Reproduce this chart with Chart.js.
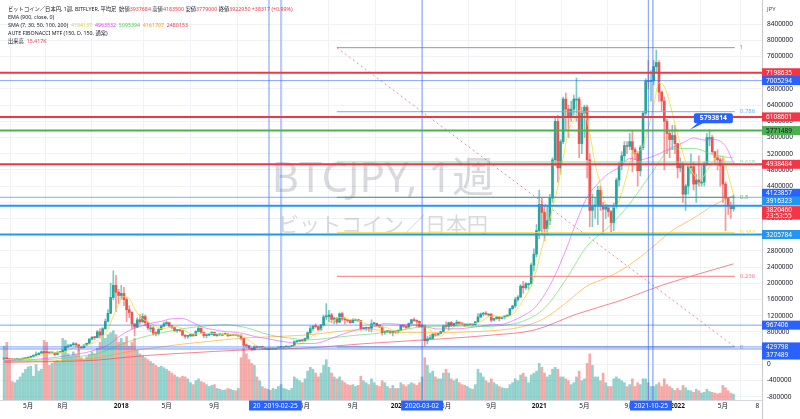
<!DOCTYPE html>
<html lang="ja">
<head>
<meta charset="utf-8">
<title>BTCJPY 1週</title>
<script src="https://cdn.jsdelivr.net/npm/chart.js@4.4.1/dist/chart.umd.min.js"></script>
<style>
  html, body { margin: 0; padding: 0; background: #ffffff; }
  #wrap { position: relative; width: 800px; height: 419px; }
</style>
</head>
<body>
<div id="wrap"><canvas id="chart" width="800" height="419"></canvas></div>
<script>
// weekly candles, index 0 = week of 2017-02-27, prices in 万円 (x10000 JPY)
const firstOpen = 13.0;
const weekClose = [
  // 2017
  14.3,13.8,11.8,11.2,12.0,13.2,13.2,13.9,15.0,17.3,19.5,22.5,24.0,27.5,31.0,29.0,28.6,28.2,28.3,24.0,29.0,30.5,
  34.5,43.0,45.5,48.0,51.0,48.0,42.0,41.0,47.5,52.0,62.0,67.0,66.0,80.0,72.0,88.0,106,126,165,195,178,170,
  // 2018
  175,160,135,128,100,92,110,105,118,103,90,90,77,76,86,94,100,103,95,91,83,84,83,72,69,70,
  74,71,81,89,79,71,72,74,79,71,73,74,74,75,71,72,73,72,72,64,47,46,40,36,43,42,
  // 2019
  44,40,39,39,38,40,40,42,43,43,44,44,46,56,57,59,58,64,78,88,94,93,86,97,117,118,
  122,111,114,104,125,112,110,108,103,111,111,108,88,89,90,89,100,101,96,92,78,81,82,78,82,80,
  // 2020
  84,96,94,91,101,110,108,106,93,96,58,63,64,74,72,76,81,95,93,103,96,101,104,101,100,97,98,
  99,98,105,117,124,126,124,124,109,113,117,113,116,119,121,137,144,160,166,193,189,199,199,245,272,330,
  // 2021
  395,375,335,355,410,505,600,485,550,655,630,610,630,655,655,545,620,635,505,380,390,393,430,390,383,388,
  377,350,390,455,490,515,540,538,550,530,520,478,535,620,700,698,700,735,745,672,650,600,570,555,565,545,
  // 2022
  485,495,420,440,488,488,445,455,450,450,495,560,560,525,510,505,490,445,410,390,384,392.3
];
const weekHigh = [
  14.8,14.6,14.0,12.3,12.5,13.4,13.7,14.1,15.4,17.8,20.5,23.2,31.0,29.0,33.5,32.0,30.5,29.5,29.8,28.8,31.5,31.5,
  36.0,45.0,49.5,49.0,54.5,53.0,48.5,44.5,49.0,52.5,64.0,68.5,68.0,84.0,88.0,91.0,112,135,200,231,220,185,
  195,190,165,145,130,100,115,123,125,122,105,96,93,80,88,96,104,107,104,96,92,86,86,84,73,71,
  75,75,83,92,90,79,73,76,81,80,73.5,76,76,77,75.5,75,74,73.5,73,72.5,64,49,47,40.5,46,45,
  44.5,45,41,40,39.5,40.5,41,44,43.5,44,44.5,45,46.5,58,58.5,60,61,65,80,95,96,100,94,99,122,150,
  133,126,117,116,127,129,116,110,109,113,112,111,108,91,92,91,110,104,102,97,93,82,83,83,83,81,
  85,97,98,95,102,111,115,110,107,100,97,70,72,76,78,77,82,97,105,104,106,102,109,105,101,100,99,
  100,99.5,106,125,127,128,130,125,125,113.5,118,117.5,117,120,122,138,146,165,170,197,205,202,201,250,285,345,
  430,410,390,390,420,510,610,615,555,660,670,640,650,665,707,660,635,640,640,520,420,410,440,440,400,395,
  390,380,398,460,500,525,550,550,570,575,535,525,540,625,705,750,725,750,776,750,675,660,605,575,590,590,
  545,510,500,445,490,520,500,470,515,490,500,570,579.4,565,525,530,510,510,450,410,400,418.4
];
const weekLow = [
  12.8,12.5,10.5,10.0,10.8,11.9,12.9,13.0,13.8,14.9,17.0,19.3,21.0,23.5,27.0,24.0,27.0,26.5,27.5,21.5,23.5,28.5,
  29.0,34.0,41.0,44.0,47.0,44.0,33.0,39.0,40.5,46.0,51.5,61.0,61.0,65.0,65.0,70.0,86,105,125,160,130,150,
  160,145,105,115,88,70,90,100,103,95,85,80,72,70,72,85,93,97,92,88,80,79,81,70,64,64,
  69,69,70,80,77,66,65,70,73,70,69,71,72,73,68,70,71,71,70,60,43,41,38,35,35.5,40,
  40,39,38.5,38,37,37.5,39.5,39.8,41,42,42.5,43.5,43.8,45.8,54,56,56.5,57.5,63,75,84,90,83,84,96,110,
  105,103,100,100,103,108,100,104,101,102,108,105,85,86,84,81,80,97,94,90,72,74,79,76,70,76,
  77,83,91,88,90,100,106,93,91,91,45,50,63,63,69,70,75,80,89,85,93,93,95,99,98,94,96,
  97,96,97,104,115,119,122,119,105,107,111,107,112,112,118,120,136,140,155,165,175,185,185,198,230,265,
  310,320,305,320,345,400,490,450,470,545,580,560,600,615,600,510,520,560,460,340,340,360,345,380,320,360,
  365,325,330,385,440,480,500,520,530,475,505,440,465,530,615,680,650,690,720,650,625,480,520,510,530,520,
  460,475,400,380,420,470,430,400,440,440,440,490,540,520,495,480,440,400,330,370,360,377.9
];
// 出来高 (K BTC)
const weekVolume = [
  140,150,105,48,45,52,60,70,80,86,88,62,92,75,80,155,150,90,95,100,102,98,
  160,155,120,115,125,118,130,110,105,112,118,125,120,135,150,165,160,170,175,180,170,150,
  160,150,165,140,150,160,130,120,115,110,105,100,95,90,85,88,84,80,75,70,65,60,58,62,60,55,
  45,40,50,55,48,45,40,35,38,40,30,28,25,26,30,28,25,24,30,110,135,120,105,95,90,60,
  50,35,30,28,25,30,28,35,40,30,28,25,30,60,55,50,45,55,75,85,80,70,60,70,90,105,
  85,70,60,55,60,50,45,40,38,40,35,38,62,50,45,40,55,45,38,35,50,45,35,30,38,30,
  30,45,40,35,40,45,42,38,45,60,110,90,70,75,60,55,55,70,80,70,55,50,55,45,40,38,35,
  30,28,40,80,70,60,50,45,55,45,40,35,32,30,30,40,45,55,50,65,70,60,45,65,70,75,
  95,85,70,60,65,80,85,80,60,60,55,50,40,45,60,75,50,55,95,120,90,60,60,50,70,45,
  35,35,55,60,55,50,45,35,40,55,35,45,40,55,55,45,35,35,40,45,35,55,40,35,30,25,
  30,25,38,32,25,24,20,28,24,18,20,28,22,20,18,16,18,38,32,24,18,15.417
];

// SMA lines: [week index, 万円]
const sma7 = [[0,11.5],[3,12.3],[6,12.8],[10,14.9],[14,22.4],[18,28.1],[22,29],[26,40.2],[30,46.1],[34,53.9],[37,69.6],[39,86.4],[41,118.9],[43,146.9],[45,167],[47,163],[49,137],[51,118.6],[53,108],[55,101],[57,94.1],[59,88],[61,89.4],[63,92.1],[65,92.9],[67,87.3],[69,78.9],[71,74.7],[73,75.1],[75,76.4],[77,76.7],[79,76.4],[82,73.9],[86,73.1],[89,71.3],[91,63.7],[93,53.9],[95,45.4],[97,41.6],[100,40.7],[104,40.1],[108,43.1],[110,47.6],[112,52],[114,59.7],[116,71.1],[118,80.1],[120,93.3],[122,103.9],[124,109.3],[126,115.9],[128,114],[130,110.9],[132,111.4],[134,105.6],[136,100],[138,96.4],[140,93.3],[142,92.3],[144,90],[146,84.1],[148,80.7],[150,85.1],[152,89.7],[154,97.7],[156,100.4],[158,96],[160,84],[162,74.3],[164,69.7],[166,79.3],[168,88],[170,96.1],[172,99.7],[175,100],[178,102],[180,109.6],[182,116.9],[184,119.6],[186,118],[188,115.9],[190,119.4],[192,130],[194,148.6],[196,169.7],[198,193],[200,232.4],[202,287.9],[204,329.6],[206,386.4],[208,437.9],[210,508.6],[212,576.4],[214,602.1],[216,625.7],[218,621.4],[220,570.7],[222,495.4],[224,446.1],[226,393.4],[228,387.3],[230,390.4],[232,423.6],[234,468.3],[236,516.9],[238,524.4],[240,538.7],[242,583],[244,638],[246,695.7],[248,685.7],[250,646.7],[252,593.9],[254,545],[256,500.7],[258,480.1],[260,461.6],[262,459.4],[264,477.6],[266,499.3],[268,515],[270,513.6],[272,467.9],[274,419.4]];
const sma30 = [[0,8.5],[3,9.5],[11,11.9],[19,16.9],[27,25.1],[31,29.4],[35,37.1],[39,47.2],[43,67.6],[47,83.7],[51,93.4],[55,101.1],[59,106.1],[63,112.5],[67,113],[71,102.7],[75,90.6],[79,85.3],[83,80.7],[87,79.2],[91,74],[95,67.6],[99,63.2],[103,58.1],[107,54],[111,51.4],[115,51.2],[119,54.2],[123,64.2],[127,73.7],[131,82.9],[135,89],[139,93],[143,100.5],[147,99.4],[151,97.7],[155,96.8],[159,92],[163,87.1],[167,87.6],[171,88],[175,90.5],[179,93.9],[183,97.8],[187,98.7],[191,107.4],[195,120.2],[199,137.6],[203,172],[207,221],[211,282],[215,351.6],[219,412.8],[223,445.7],[227,470.9],[231,485.7],[235,508],[239,505.4],[243,511.8],[247,522.7],[251,535.4],[255,547],[259,558.9],[263,553.9],[267,554.5],[271,538.4],[274,496.4]];
const sma50 = [[0,7.5],[3,7.9],[11,9.6],[19,13.1],[27,18.5],[35,26.5],[43,46.9],[51,65.3],[59,77.7],[67,87.8],[75,94.2],[83,97.7],[91,90.3],[99,73.7],[107,65],[115,60.7],[123,65.4],[131,71.1],[139,75.6],[147,81.8],[155,91.1],[163,94],[171,94.5],[179,93.2],[187,96],[195,106.6],[203,138.8],[211,209.3],[219,292],[227,338.4],[235,396.3],[243,469.8],[251,531.9],[259,533],[267,515.9],[274,509.5]];
const sma100 = [[0,5.6],[3,5.8],[19,8.8],[35,16],[43,26.3],[51,36.3],[59,43],[67,49.9],[75,55.4],[83,60.8],[91,65.3],[99,67.7],[107,70],[115,73.2],[123,79.1],[131,84.3],[139,85.4],[147,79],[155,78.8],[163,77.5],[171,79.2],[179,81.4],[187,85],[195,93.4],[203,113.7],[211,151.7],[219,193.6],[227,215.7],[235,245.7],[243,286.3],[251,330.3],[259,361],[267,394.5],[274,416.2]];
const sma200 = [[0,5.3],[3,5.4],[19,6.8],[35,10.4],[43,15.7],[55,22.5],[71,28.8],[87,34.5],[103,37.5],[119,42.5],[135,50.9],[151,57.5],[167,64],[183,72.1],[199,84.3],[215,123.8],[231,156.3],[247,195],[263,227.1],[274,248]];

// drawn levels (JPY)
const hLevels = [7198635, 7005294, 6108601, 5771489, 4938484, 4123857, 3916323, 3205784, 967406, 429798, 377489];
const lastPrice = 3820460;
const fibHigh = 7817916, fibLow = 429798;
const fibStartWeek = 125, fibEndWeek = 274.5;
const fibLevels = [1, 0.786, 0.618, 0.5, 0.382, 0.236, 0];
const vLineWeeks = [99.5, 104, 157, 242, 243.7];
const calloutWeek = 257.6, calloutValue = 5793814;

// axis ticks
const priceTicks = [-800000,-400000,0,400000,800000,1200000,1600000,2000000,2400000,2800000,3200000,3600000,
  4000000,4400000,4800000,5200000,5600000,6000000,6400000,6800000,7200000,7600000,8000000,8400000];
const tickWeeks = [9, 22, 44, 61, 79, 96, 113, 131, 148, 166, 183, 201, 218, 235, 253, 270, 283];
const tickLabels = ['5月','8月','2018','5月','9月','2019','5月','9月','2020','5月','9月','2021','5月','9月','2022','5月','8'];
const dateMarkWeeks = [101.9, 157, 243];
const dateMarkTexts = ['20  2019-02-25', '2020-03-02', '2021-10-25'];

const MAN = 10000;
const FONT = "'Noto Sans', 'Noto Sans CJK JP', sans-serif";
const UP = '#26a69a', DOWN = '#ef5350';
const DARK = '#131722', RED = '#f23645';

const opens = weekClose.map((c, i) => (i === 0 ? firstOpen : weekClose[i - 1]));
const isUp = weekClose.map((c, i) => c >= opens[i]);
const bodies = weekClose.map((c, i) => ({ x: i, y: [opens[i] * MAN, c * MAN] }));
const wicks = weekClose.map((c, i) => ({
  x: i,
  y: [Math.min(weekLow[i], opens[i], c) * MAN, Math.max(weekHigh[i], opens[i], c) * MAN]
}));
const volumes = weekVolume.map((v, i) => ({ x: i, y: v }));

function lineSet(points, color, width, extra) {
  return Object.assign({
    type: 'line', data: points, borderColor: color, borderWidth: width,
    pointRadius: 0, fill: false, tension: 0, order: 1
  }, extra || {});
}
const smaPoints = arr => arr.map(([w, v]) => ({ x: w, y: v * MAN }));
const smaOpts = { cubicInterpolationMode: 'monotone', order: 3 };

const hStyles = [
  [RED, 2], ['rgba(41,98,255,0.55)', 1], [RED, 2], ['#4caf50', 2], [RED, 2], ['rgba(41,98,255,0.55)', 1],
  ['#2196f3', 2], ['#2196f3', 2], ['rgba(41,98,255,0.6)', 1], ['rgba(41,98,255,0.6)', 1], ['rgba(41,98,255,0.6)', 1]
];
const fibColors = ['#9598a1', '#64b5f6', '#7ee2b0', '#66bb6a', '#f2e24a', '#f77c80', '#9598a1'];
const fibValue = lv => fibLow + lv * (fibHigh - fibLow);

const datasets = [
  { type: 'bar', data: volumes, yAxisID: 'yv', grouped: false, maxBarThickness: 2,
    barPercentage: 1, categoryPercentage: 1,
    backgroundColor: isUp.map(u => (u ? 'rgba(38,166,154,0.5)' : 'rgba(239,83,80,0.5)')), order: 20 },
  { type: 'bar', data: wicks, grouped: false, maxBarThickness: 1, barPercentage: 1, categoryPercentage: 1,
    backgroundColor: isUp.map(u => (u ? 'rgba(38,166,154,0.6)' : 'rgba(239,83,80,0.6)')), order: 6 },
  { type: 'bar', data: bodies, grouped: false, maxBarThickness: 2, barPercentage: 1, categoryPercentage: 1,
    minBarLength: 1, backgroundColor: isUp.map(u => (u ? UP : DOWN)), order: 5 },
  lineSet(smaPoints(sma200), 'rgba(242,54,69,0.6)', 1, smaOpts),
  lineSet(smaPoints(sma100), 'rgba(255,152,0,0.55)', 1, smaOpts),
  lineSet(smaPoints(sma50), 'rgba(90,214,90,0.6)', 1, smaOpts),
  lineSet(smaPoints(sma30), 'rgba(224,64,251,0.55)', 1, smaOpts),
  lineSet(smaPoints(sma7), 'rgba(240,222,60,0.85)', 1, smaOpts),
  lineSet([{ x: fibStartWeek, y: fibHigh }, { x: fibEndWeek, y: fibLow }], 'rgba(242,54,69,0.6)', 1,
    { borderDash: [2, 3], order: 2 })
];
fibLevels.forEach((lv, k) => {
  datasets.push(lineSet([{ x: fibStartWeek, y: fibValue(lv) }, { x: fibEndWeek, y: fibValue(lv) }],
    fibColors[k], 1, { order: 2 }));
});
hLevels.forEach((v, k) => {
  datasets.push(lineSet([{ x: -2, y: v }, { x: 286, y: v }], hStyles[k][0], hStyles[k][1], { order: 0 }));
});
vLineWeeks.forEach(w => {
  datasets.push(lineSet([{ x: w, y: -1000000 }, { x: w, y: 9100000 }], 'rgba(41,98,255,0.65)', 1, { order: 0 }));
});

const priceBoxBg = [RED, '#2962ff', RED, '#4caf50', RED, '#2962ff', '#2196f3', '#2196f3', '#2962ff', '#2962ff', '#2962ff'];
const priceBoxShift = [0, 0, 0, 0, 0, -4, -4.7, 0, 0, 0, 6];

function drawSegments(ctx, x, y, segs) {
  segs.forEach(([text, color]) => {
    ctx.fillStyle = color;
    ctx.fillText(text, x, y);
    x += ctx.measureText(text).width;
  });
}

const overlay = {
  id: 'overlay',
  beforeDatasetsDraw(chart) {
    const { ctx, chartArea: a } = chart;
    const cx = (a.left + a.right) / 2 + 2;
    ctx.save();
    ctx.fillStyle = 'rgba(120,123,134,0.28)';
    ctx.textAlign = 'center';
    ctx.textBaseline = 'middle';
    ctx.font = `42px ${FONT}`;
    ctx.fillText('BTCJPY, 1週', cx, 180);
    ctx.font = `21px ${FONT}`;
    ctx.fillText('ビットコイン／日本円', cx, 226);
    ctx.restore();
  },
  afterDraw(chart) {
    const { ctx, chartArea: a } = chart;
    const x = chart.scales.x, y = chart.scales.y;
    ctx.save();
    ctx.textBaseline = 'middle';

    // fib labels
    ctx.font = `6px ${FONT}`;
    ctx.textAlign = 'left';
    fibLevels.forEach((lv, k) => {
      ctx.fillStyle = fibColors[k];
      ctx.fillText(String(lv), x.getPixelForValue(fibEndWeek) + 5, y.getPixelForValue(fibValue(lv)));
    });

    // price boxes on the right axis
    ctx.font = `6.5px ${FONT}`;
    hLevels.forEach((v, k) => {
      const cy = y.getPixelForValue(v) + priceBoxShift[k];
      ctx.fillStyle = priceBoxBg[k];
      ctx.fillRect(a.right, cy - 4.5, 38, 9);
      ctx.fillStyle = k === 3 ? DARK : '#ffffff';
      ctx.fillText(String(v), a.right + 4, cy + 0.3);
    });
    const ly = y.getPixelForValue(lastPrice);
    ctx.fillStyle = RED;
    ctx.fillRect(a.right, ly - 3.5, 38, 13.5);
    ctx.fillStyle = '#ffffff';
    ctx.fillText(String(lastPrice), a.right + 4, ly + 0.6);
    ctx.fillText('23:53:55', a.right + 4, ly + 6.6);

    // JPY label and axis separator below the plot
    ctx.fillStyle = '#4a4e5a';
    ctx.font = `6px ${FONT}`;
    ctx.fillText('JPY', a.right + 5, 9);
    ctx.strokeStyle = '#c8cad0';
    ctx.lineWidth = 1;
    ctx.beginPath();
    ctx.moveTo(a.right + 0.5, a.bottom);
    ctx.lineTo(a.right + 0.5, 419);
    ctx.stroke();

    // date boxes on the time axis
    ctx.font = `6.5px ${FONT}`;
    ctx.textAlign = 'center';
    dateMarkWeeks.forEach((w, k) => {
      const t = dateMarkTexts[k];
      const cx = x.getPixelForValue(w);
      const tw = ctx.measureText(t).width + 8;
      ctx.fillStyle = '#2962ff';
      ctx.fillRect(cx - tw / 2, a.bottom + 0.5, tw, 10);
      ctx.fillStyle = '#ffffff';
      ctx.fillText(t, cx, a.bottom + 5.8);
    });

    // callout for the marked high
    const tx = x.getPixelForValue(calloutWeek), ty = y.getPixelForValue(calloutValue);
    const bx = tx + 4, by = ty - 16.5, bw = 39, bh = 10;
    ctx.fillStyle = '#2962ff';
    ctx.beginPath();
    ctx.roundRect(bx, by, bw, bh, 2);
    ctx.fill();
    ctx.beginPath();
    ctx.moveTo(bx + 4, by + bh - 0.5);
    ctx.lineTo(bx + 10, by + bh - 0.5);
    ctx.lineTo(tx, ty);
    ctx.closePath();
    ctx.fill();
    ctx.fillStyle = '#ffffff';
    ctx.font = `bold 6.8px ${FONT}`;
    ctx.fillText(String(calloutValue), bx + bw / 2, by + bh / 2 + 0.3);

    // legend block, top left
    ctx.textAlign = 'left';
    ctx.font = `5.3px ${FONT}`;
    drawSegments(ctx, 8, 9, [
      ['ビットコイン／日本円, 1週, BITFLYER, 平均足  ', DARK], ['始値', DARK], ['3937684', RED],
      [' 高値', DARK], ['4183500', RED], [' 安値', DARK], ['3779000', RED],
      [' 終値', DARK], ['3922950', RED], [' +38317 (+0.99%)', RED]
    ]);
    drawSegments(ctx, 8, 17.3, [['EMA (900, close, 0)', DARK]]);
    drawSegments(ctx, 8, 25.3, [
      ['SMA (7, 30, 50, 100, 200)  ', DARK], ['4194137  ', '#e6d62c'], ['4963532  ', '#e040fb'],
      ['5095394  ', '#4cd04c'], ['4161707  ', '#ff9800'], ['2480153', RED]
    ]);
    drawSegments(ctx, 8, 33.3, [['AUTE FIBONACCI MTF (150, D, 150, 通常)', DARK]]);
    drawSegments(ctx, 8, 41.3, [['出来高  ', DARK], ['15.417K', RED]]);
    ctx.restore();
  }
};

new Chart(document.getElementById('chart'), {
  type: 'bar',
  data: { datasets },
  options: {
    responsive: false,
    animation: false,
    events: [],
    devicePixelRatio: 1,
    layout: { padding: 0 },
    plugins: { legend: { display: false }, tooltip: { enabled: false }, title: { display: false } },
    scales: {
      x: {
        type: 'linear', min: -1.56, max: 284.7, offset: false,
        afterFit: s => { s.height = 19; s.paddingLeft = 0; s.paddingRight = 0; },
        afterBuildTicks: s => { s.ticks = tickWeeks.map(v => ({ value: v })); },
        ticks: {
          autoSkip: false, maxRotation: 0, padding: 2, color: DARK,
          font: ctx => ({ family: FONT, size: 6.5, weight: /^\d{4}$/.test(tickLabels[ctx.index]) ? 'bold' : 'normal' }),
          callback: (v, idx) => tickLabels[idx]
        },
        grid: { color: '#f0f2f7', drawTicks: false },
        border: { color: '#d6d8de' }
      },
      y: {
        position: 'right', min: -881000, max: 8995000,
        afterFit: s => { s.width = 38; s.paddingTop = 0; s.paddingBottom = 0; },
        afterBuildTicks: s => { s.ticks = priceTicks.map(v => ({ value: v })); },
        ticks: { color: DARK, padding: 5, font: { family: FONT, size: 6.5 }, callback: v => String(v) },
        grid: { color: '#f0f2f7', drawTicks: false },
        border: { color: '#c8cad0' }
      },
      yv: { display: false, min: 0, max: 1040 }
    }
  },
  plugins: [overlay]
});
</script>
</body>
</html>
